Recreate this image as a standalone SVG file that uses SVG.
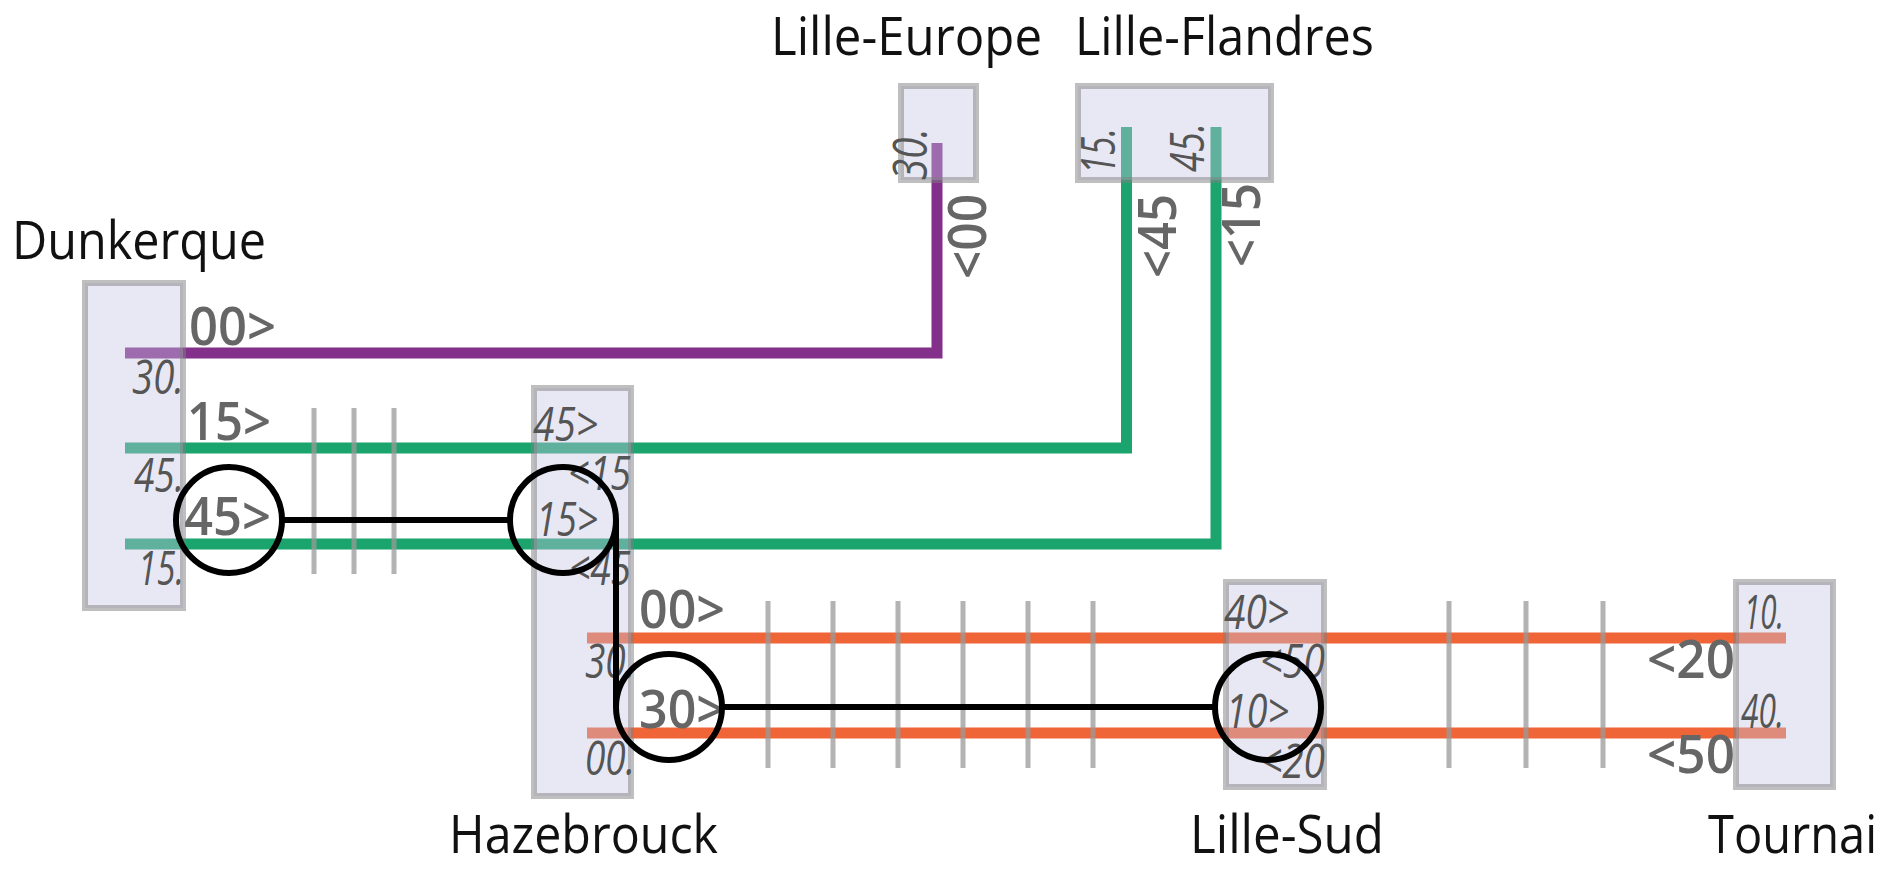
<svg xmlns="http://www.w3.org/2000/svg" width="1902" height="873" viewBox="0 0 1902 873">
<style>
.line{fill:none;stroke-width:11;stroke-linejoin:miter}
.purple{stroke:#82308a}.green{stroke:#1ba46e}.orange{stroke:#ef6537}
.tick{stroke:#999;stroke-opacity:.75;stroke-width:5}
.box{fill:#c5c5e3;fill-opacity:.4;stroke:#808080;stroke-opacity:.5;stroke-width:6}
.name{font:400 53px "Open Sans","Noto Sans",sans-serif;fill:#111}
.time{font:600 52px "Open Sans","Noto Sans",sans-serif;fill:#666}
.stop{font:italic 400 48px "Open Sans","Noto Sans",sans-serif;fill:#555}
.ring{fill:none;stroke:#000;stroke-width:6}
.link{fill:none;stroke:#000;stroke-width:6}
</style>
<g id="connectors">
<path class="line purple" d="M125 353H937V143"/>
<path class="line green" d="M125 448H1126.500V127"/>
<path class="line green" d="M125 544H1216V127"/>
<path class="line orange" d="M587 638H1786"/>
<path class="line orange" d="M587 733H1786"/>
<g class="tick">
<path d="M314 408V574M354 408V574M394 408V574"/>
<path d="M768 601V768M833 601V768M898 601V768M963 601V768M1028 601V768M1093 601V768"/>
<path d="M1449 601V768M1526 601V768M1603 601V768"/>
</g>
<text class="time" x="189" y="345" textLength="87" lengthAdjust="spacingAndGlyphs">00&gt;</text>
<text class="time" x="187" y="440" textLength="84" lengthAdjust="spacingAndGlyphs">15&gt;</text>
<text class="time" x="184" y="535" textLength="87" lengthAdjust="spacingAndGlyphs">45&gt;</text>
<text class="time" x="639" y="628" textLength="86" lengthAdjust="spacingAndGlyphs">00&gt;</text>
<text class="time" x="639" y="728" textLength="86" lengthAdjust="spacingAndGlyphs">30&gt;</text>
<text class="time" x="1647" y="678" textLength="88" lengthAdjust="spacingAndGlyphs">&lt;20</text>
<text class="time" x="1647" y="773" textLength="88" lengthAdjust="spacingAndGlyphs">&lt;50</text>
<text class="time" transform="translate(986 279) rotate(-90)" textLength="85" lengthAdjust="spacingAndGlyphs">&lt;00</text>
<text class="time" transform="translate(1176 278) rotate(-90)" textLength="84" lengthAdjust="spacingAndGlyphs">&lt;45</text>
<text class="time" transform="translate(1260 267) rotate(-90)" textLength="84" lengthAdjust="spacingAndGlyphs">&lt;15</text>
</g>
<g id="dunkerque">
<rect class="box" x="85" y="283" width="98" height="325"/>
<text class="name" x="12" y="259" textLength="254" lengthAdjust="spacingAndGlyphs">Dunkerque</text>
<text class="stop" x="132" y="394" textLength="52" lengthAdjust="spacingAndGlyphs">30.</text>
<text class="stop" x="134" y="492" textLength="50" lengthAdjust="spacingAndGlyphs">45.</text>
<text class="stop" x="138" y="585" textLength="46" lengthAdjust="spacingAndGlyphs">15.</text>
</g>
<g id="hazebrouck">
<rect class="box" x="534" y="388" width="97" height="408"/>
<text class="name" x="449" y="853" textLength="269" lengthAdjust="spacingAndGlyphs">Hazebrouck</text>
<text class="stop" x="533" y="441" textLength="65" lengthAdjust="spacingAndGlyphs">45&gt;</text>
<text class="stop" x="568" y="490" textLength="63" lengthAdjust="spacingAndGlyphs">&lt;15</text>
<text class="stop" x="536" y="536" textLength="62" lengthAdjust="spacingAndGlyphs">15&gt;</text>
<text class="stop" x="569" y="585" textLength="62" lengthAdjust="spacingAndGlyphs">&lt;45</text>
<text class="stop" x="585" y="678" textLength="50" lengthAdjust="spacingAndGlyphs">30.</text>
<text class="stop" x="585" y="775" textLength="50" lengthAdjust="spacingAndGlyphs">00.</text>
</g>
<g id="lille-sud">
<rect class="box" x="1226" y="582" width="98" height="205"/>
<text class="name" x="1190" y="853" textLength="194" lengthAdjust="spacingAndGlyphs">Lille-Sud</text>
<text class="stop" x="1224" y="629" textLength="65" lengthAdjust="spacingAndGlyphs">40&gt;</text>
<text class="stop" x="1260" y="678" textLength="65" lengthAdjust="spacingAndGlyphs">&lt;50</text>
<text class="stop" x="1226" y="728" textLength="63" lengthAdjust="spacingAndGlyphs">10&gt;</text>
<text class="stop" x="1260" y="778" textLength="65" lengthAdjust="spacingAndGlyphs">&lt;20</text>
</g>
<g id="tournai">
<rect class="box" x="1736" y="582" width="97" height="205"/>
<text class="name" x="1708" y="853" textLength="169" lengthAdjust="spacingAndGlyphs">Tournai</text>
<text class="stop" x="1744" y="629" textLength="40" lengthAdjust="spacingAndGlyphs">10.</text>
<text class="stop" x="1741" y="728" textLength="43" lengthAdjust="spacingAndGlyphs">40.</text>
</g>
<g id="lille-europe">
<rect class="box" x="901" y="86" width="75" height="94"/>
<text class="name" x="771" y="55" textLength="271" lengthAdjust="spacingAndGlyphs">Lille-Europe</text>
<text class="stop" transform="translate(927 180) rotate(-90)" textLength="52" lengthAdjust="spacingAndGlyphs">30.</text>
</g>
<g id="lille-flandres">
<rect class="box" x="1078" y="86" width="193" height="94"/>
<text class="name" x="1075" y="55" textLength="299" lengthAdjust="spacingAndGlyphs">Lille-Flandres</text>
<text class="stop" transform="translate(1115 174) rotate(-90)" textLength="46" lengthAdjust="spacingAndGlyphs">15.</text>
<text class="stop" transform="translate(1204 172) rotate(-90)" textLength="49" lengthAdjust="spacingAndGlyphs">45.</text>
</g>
<g id="interchange">
<path class="link" d="M282 520H510M616 520V707M721 707H1215"/>
<circle class="ring" cx="229" cy="520" r="53"/>
<circle class="ring" cx="563" cy="520" r="53"/>
<circle class="ring" cx="669" cy="707" r="53"/>
<circle class="ring" cx="1268" cy="707" r="53"/>
</g>
</svg>
